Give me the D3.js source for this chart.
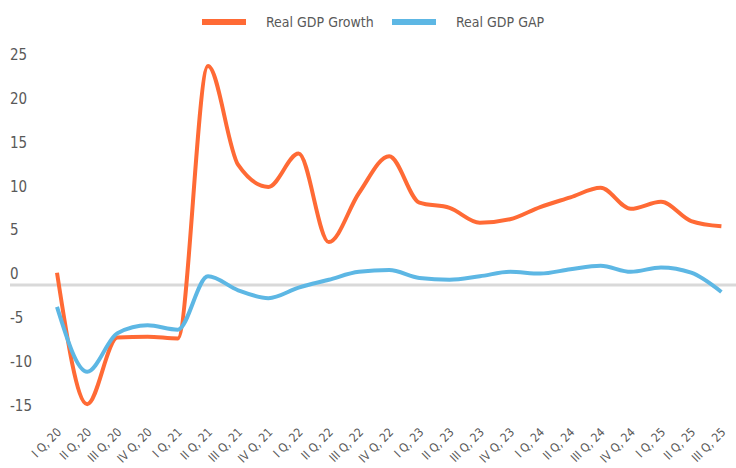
<!DOCTYPE html>
<html>
<head>
<meta charset="utf-8">
<script src="https://cdn.jsdelivr.net/npm/d3@7"></script>
<style>
  body { margin: 0; background: #fff; }
  text { font-family: "DejaVu Sans Condensed", "DejaVu Sans", sans-serif; font-stretch: condensed; fill: #595959; }
</style>
</head>
<body>
<div id="chart"></div>
<script>
// quarters shown on the x axis
var quarters = ["I Q, 20", "II Q, 20", "III Q, 20", "IV Q, 20",
                "I Q, 21", "II Q, 21", "III Q, 21", "IV Q, 21",
                "I Q, 22", "II Q, 22", "III Q, 22", "IV Q, 22",
                "I Q, 23", "II Q, 23", "III Q, 23", "IV Q, 23",
                "I Q, 24", "II Q, 24", "III Q, 24", "IV Q, 24",
                "I Q, 25", "II Q, 25", "III Q, 25"];

var gdpGrowth = [1.4, -13.6, -6.0, -5.9, -6.1, 25.0, 13.7, 11.2, 15.0, 4.9, 10.5, 14.7,
                 9.4, 8.8, 7.1, 7.5, 8.9, 10.0, 11.1, 8.7, 9.5, 7.3, 6.7];

var gdpGap = [-2.5, -9.9, -5.5, -4.6, -5.1, 1.0, -0.6, -1.5, -0.3, 0.6, 1.5, 1.7,
              0.8, 0.6, 1.0, 1.5, 1.3, 1.8, 2.2, 1.5, 2.0, 1.4, -0.8];

var yTicks = [-15, -10, -5, 0, 5, 10, 15, 20, 25];

var seriesNames = ["Real GDP Growth", "Real GDP GAP"];
var colors = ["#ff6a35", "#5db7e4"];

var width = 736, height = 468;

var svg = d3.select("#chart").append("svg")
    .attr("width", width)
    .attr("height", height);

var x = d3.scalePoint()
    .domain(quarters)
    .range([57, 721.4]);

var y = d3.scaleLinear()
    .domain([-15, 25])
    .range([416.4, 66]);

// y labels (sit a bit above their value)
svg.append("g")
    .selectAll("text")
    .data(yTicks)
    .enter().append("text")
    .attr("x", 10)
    .attr("y", function(d) { return y(d) - 11; })
    .attr("dy", "0.35em")
    .attr("font-size", 15)
    .text(function(d) { return d; });

// zero line
svg.append("line")
    .attr("x1", 10)
    .attr("x2", width)
    .attr("y1", y(0))
    .attr("y2", y(0))
    .attr("stroke", "#d9d9d9")
    .attr("stroke-width", 3);

// x labels rotated
svg.append("g")
    .selectAll("text")
    .data(quarters)
    .enter().append("text")
    .attr("transform", function(d) { return "translate(" + (x(d) + 5) + ",433) rotate(-45)"; })
    .attr("text-anchor", "end")
    .attr("font-size", 12)
    .text(function(d) { return d; });

var line = d3.line()
    .x(function(d, i) { return x(quarters[i]); })
    .y(function(d) { return y(d); })
    .curve(d3.curveMonotoneX);

[gdpGrowth, gdpGap].forEach(function(s, i) {
    svg.append("path")
        .datum(s)
        .attr("fill", "none")
        .attr("stroke", colors[i])
        .attr("stroke-width", 4)
        .attr("d", line);
});

// legend
var legend = svg.append("g")
    .selectAll("g")
    .data(seriesNames)
    .enter().append("g")
    .attr("transform", function(d, i) { return "translate(" + (202 + i * 190) + ",22)"; });

legend.append("line")
    .attr("x1", 0)
    .attr("x2", 44)
    .attr("stroke", function(d, i) { return colors[i]; })
    .attr("stroke-width", 6);

legend.append("text")
    .attr("x", 64)
    .attr("dy", "0.35em")
    .attr("font-size", 14)
    .text(function(d) { return d; });
</script>
</body>
</html>
